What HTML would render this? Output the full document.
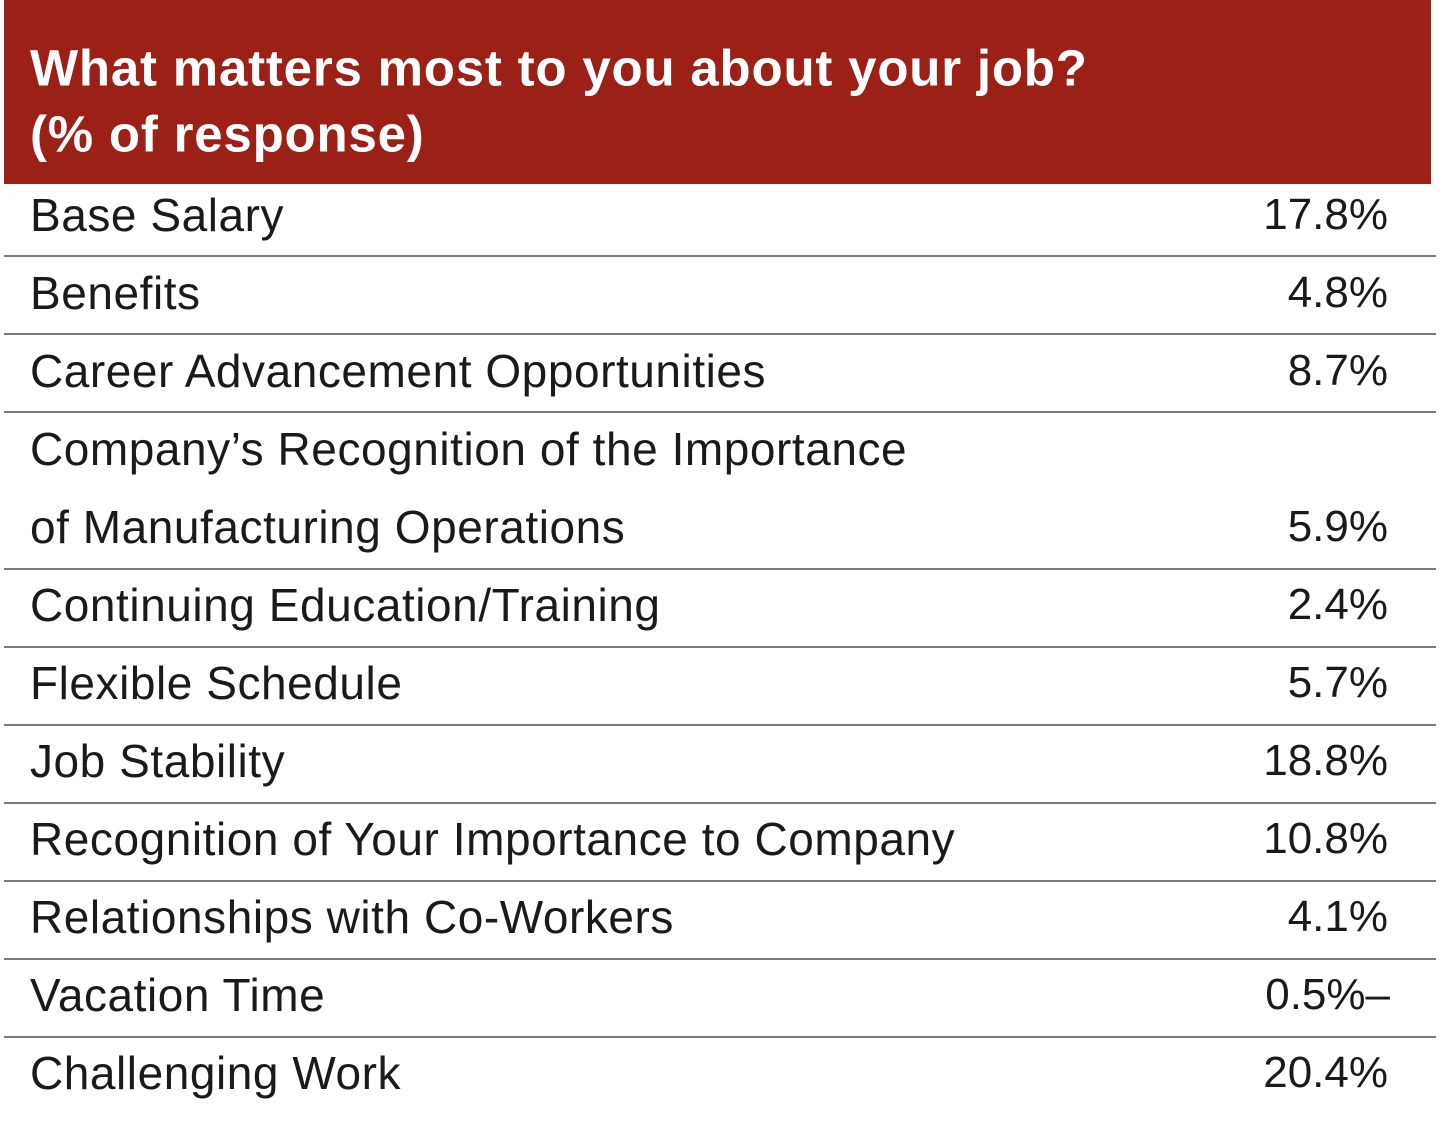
<!DOCTYPE html>
<html><head><style>
html,body{margin:0;padding:0;background:#fff;width:1440px;height:1134px;overflow:hidden;position:relative;font-family:"Liberation Sans",sans-serif;}
.hd{position:absolute;left:4px;top:0;width:1427px;height:184px;background:#9b2015;}
.t{position:absolute;left:30px;color:#fff;font-weight:bold;font-size:51px;line-height:1;white-space:nowrap;letter-spacing:0.8px;transform:translateY(-50%)}
.r{position:absolute;left:30px;font-size:46px;line-height:1;color:#1a1a1a;white-space:nowrap;letter-spacing:0.55px;transform:translateY(-50%)}
.v{position:absolute;right:52px;font-size:44px;line-height:1;color:#1a1a1a;white-space:nowrap;transform:translateY(-50%)}
.l{position:absolute;left:4px;width:1432px;height:2px;background:#7a7a7a;}
</style></head><body>
<div class="hd"></div>
<div class="t" style="top:68px">What matters most to you about your job?</div>
<div class="t" style="top:134px">(% of response)</div>

<div class="r" style="top:215px">Base Salary</div><div class="v" style="top:215px">17.8%</div>
<div class="l" style="top:255px"></div>
<div class="r" style="top:293px">Benefits</div><div class="v" style="top:293px">4.8%</div>
<div class="l" style="top:333px"></div>
<div class="r" style="top:371px">Career Advancement Opportunities</div><div class="v" style="top:371px">8.7%</div>
<div class="l" style="top:411px"></div>
<div class="r" style="top:449px">Company’s Recognition of the Importance</div>
<div class="r" style="top:527px">of Manufacturing Operations</div><div class="v" style="top:527px">5.9%</div>
<div class="l" style="top:568px"></div>
<div class="r" style="top:605px">Continuing Education/Training</div><div class="v" style="top:605px">2.4%</div>
<div class="l" style="top:646px"></div>
<div class="r" style="top:683px">Flexible Schedule</div><div class="v" style="top:683px">5.7%</div>
<div class="l" style="top:724px"></div>
<div class="r" style="top:761px">Job Stability</div><div class="v" style="top:761px">18.8%</div>
<div class="l" style="top:802px"></div>
<div class="r" style="top:839px">Recognition of Your Importance to Company</div><div class="v" style="top:839px">10.8%</div>
<div class="l" style="top:880px"></div>
<div class="r" style="top:917px">Relationships with Co-Workers</div><div class="v" style="top:917px">4.1%</div>
<div class="l" style="top:958px"></div>
<div class="r" style="top:995px">Vacation Time</div><div class="v" style="top:995px;right:50px">0.5%–</div>
<div class="l" style="top:1036px"></div>
<div class="r" style="top:1073px">Challenging Work</div><div class="v" style="top:1073px">20.4%</div>
</body></html>
